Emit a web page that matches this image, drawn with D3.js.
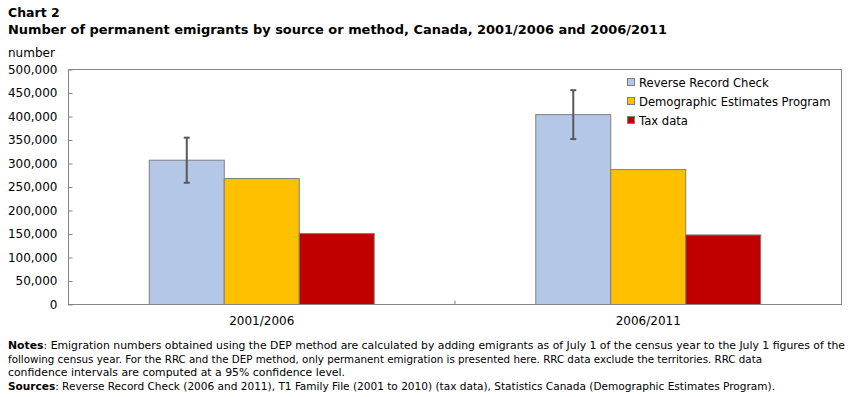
<!DOCTYPE html>
<html><head><meta charset="utf-8">
<script src="https://cdn.jsdelivr.net/npm/d3@7"></script>
<style>body{margin:0;background:#fff}svg{display:block}</style>
</head><body><svg id="c" width="850" height="397"></svg>
<script>
const categories = ["2001/2006", "2006/2011"];
const seriesNames = ["Reverse Record Check", "Demographic Estimates Program", "Tax data"];
const seriesColors = ["#b4c7e7", "#ffc000", "#c00000"];
const rrcValues = [307000, 404000];
const depValues = [268000, 287000];
const taxValues = [151000, 148000];
const rrcLow = [259000, 352000];
const rrcHigh = [355000, 456000];
const yTicks = [0, 50000, 100000, 150000, 200000, 250000, 300000, 350000, 400000, 450000, 500000];

const svg = d3.select("#c");
const font = "Verdana, 'DejaVu Sans', sans-serif";
const L = 68.5, R = 841.5, T = 69.5, B = 304.5;
const x = d3.scaleBand().domain(categories).range([L, R]).paddingInner(0).paddingOuter(0);
const xs = d3.scaleBand().domain(seriesNames).range([0, x.bandwidth()]).paddingInner(0).paddingOuter(1.077);
const y = d3.scaleLinear().domain([0, 500000]).range([B, T]);

svg.append("text").attr("x", 8).attr("y", 17).attr("font-family", font).attr("font-weight", "bold").attr("font-size", 12.5).text("Chart 2");
svg.append("text").attr("x", 8).attr("y", 34).attr("font-family", font).attr("font-weight", "bold").attr("font-size", 12.5)
  .attr("textLength", 659).attr("lengthAdjust", "spacingAndGlyphs")
  .text("Number of permanent emigrants by source or method, Canada, 2001/2006 and 2006/2011");
svg.append("text").attr("x", 8).attr("y", 57).attr("font-family", font).attr("font-size", 12).text("number");

const data = categories.map((c, i) => ({c, vals: [rrcValues[i], depValues[i], taxValues[i]]}));
const g = svg.append("g");
data.forEach((d, i) => {
  d.vals.forEach((v, j) => {
    g.append("rect").attr("x", x(d.c) + xs(seriesNames[j])).attr("y", y(v))
      .attr("width", xs.bandwidth()).attr("height", y(0) - y(v))
      .attr("fill", seriesColors[j]).attr("stroke", "#7f7f7f").attr("stroke-width", 1);
  });
  const cx = x(d.c) + xs(seriesNames[0]) + xs.bandwidth() / 2;
  g.append("line").attr("x1", cx).attr("x2", cx).attr("y1", y(rrcLow[i])).attr("y2", y(rrcHigh[i])).attr("stroke", "#595959").attr("stroke-width", 2);
  [rrcLow[i], rrcHigh[i]].forEach(v => g.append("line").attr("x1", cx - 3).attr("x2", cx + 3).attr("y1", y(v)).attr("y2", y(v)).attr("stroke", "#595959").attr("stroke-width", 2));
});

// frame
svg.append("rect").attr("x", L).attr("y", T).attr("width", R - L).attr("height", B - T).attr("fill", "none").attr("stroke", "#868686");

const yAxis = svg.append("g").attr("transform", `translate(${L},0)`)
  .call(d3.axisLeft(y).tickValues(yTicks).tickSize(-4).tickPadding(11).tickFormat(d3.format(",")));
yAxis.select(".domain").remove();
yAxis.selectAll("line").attr("stroke", "#868686");
yAxis.selectAll("text").attr("font-family", font).attr("font-size", 12).attr("fill", "#000");

const xAxis = svg.append("g").attr("transform", `translate(0,${B})`)
  .call(d3.axisBottom(x).tickSize(0).tickPadding(12));
xAxis.select(".domain").remove();
xAxis.selectAll("text").attr("font-family", font).attr("font-size", 12).attr("fill", "#000");
svg.append("line").attr("x1", x(categories[1])).attr("x2", x(categories[1])).attr("y1", B).attr("y2", B - 4).attr("stroke", "#868686");

// legend
const lg = svg.append("g");
seriesNames.forEach((n, j) => {
  const yy = 83 + j * 19;
  lg.append("rect").attr("x", 627.5).attr("y", yy - 4.5).attr("width", 7).attr("height", 7).attr("fill", seriesColors[j]).attr("stroke", "#7f7f7f");
  lg.append("text").attr("x", 639).attr("y", yy + 4).attr("font-family", font).attr("font-size", 11.6).text(n);
});

// notes
const nf = "'DejaVu Sans Condensed', 'DejaVu Sans', sans-serif";
const notes = [
  [["Notes", true], [": Emigration numbers obtained using the DEP method are calculated by adding emigrants as of July 1 of the census year to the July 1 figures of the", false]],
  [["following census year. For the RRC and the DEP method, only permanent emigration is presented here. RRC data exclude the territories. RRC data", false]],
  [["confidence intervals are computed at a 95% confidence level.", false]],
  [["Sources", true], [": Reverse Record Check (2006 and 2011), T1 Family File (2001 to 2010) (tax data), Statistics Canada (Demographic Estimates Program).", false]]
];
const lens = [837, 754, 337, 767];
notes.forEach((line, i) => {
  const t = svg.append("text").attr("x", 8).attr("y", 349 + i * 13.5).attr("font-family", nf).attr("font-size", 11)
    .attr("textLength", lens[i]).attr("lengthAdjust", "spacingAndGlyphs");
  line.forEach(([s, b]) => t.append("tspan").attr("font-weight", b ? "bold" : "normal").text(s));
});
</script></body></html>
